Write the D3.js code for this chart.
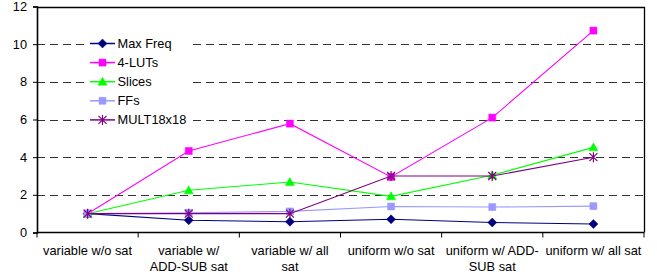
<!DOCTYPE html>
<html>
<head>
<meta charset="utf-8">
<script src="https://cdn.jsdelivr.net/npm/d3@7"></script>
<style>
  body { margin: 0; background: #fff; }
  svg { display: block; font-family: "Liberation Sans", Arial, sans-serif; }
</style>
</head>
<body>
<svg id="chart" width="657" height="275"></svg>
<script>
// category labels, each split into its wrapped lines
const categories = [
  ['variable w/o sat'],
  ['variable w/', 'ADD-SUB sat'],
  ['variable w/ all', 'sat'],
  ['uniform w/o sat'],
  ['uniform w/ ADD-', 'SUB sat'],
  ['uniform w/ all sat'],
];

const maxFreq = [1, 0.65, 0.57, 0.7, 0.53, 0.45];
const luts = [1, 4.33, 5.78, 2.95, 6.1, 10.72];
const slices = [1, 2.24, 2.68, 1.92, 3.04, 4.52];
const ffs = [1, 1.05, 1.12, 1.38, 1.35, 1.4];
const mult = [1, 1, 1, 3, 3, 4];

const yTicks = [0, 2, 4, 6, 8, 10, 12];

const series = [
  { name: 'Max Freq', values: maxFreq, color: '#000080', marker: 'diamond' },
  { name: '4-LUTs', values: luts, color: '#FF00FF', marker: 'square' },
  { name: 'Slices', values: slices, color: '#00FF00', marker: 'triangle' },
  { name: 'FFs', values: ffs, color: '#9999FF', marker: 'square' },
  { name: 'MULT18x18', values: mult, color: '#800080', marker: 'star' },
];

const Constants = {
  width: 657,
  height: 275,
  left: 37,
  top: 6.5,
  right: 644,
  bottom: 232.5,
  fontSize: 12.8,
};

const svg = d3.select('#chart');

const x = d3
  .scaleBand()
  .domain(d3.range(categories.length))
  .range([Constants.left, Constants.right]);

const y = d3
  .scaleLinear()
  .domain([0, 12])
  .range([Constants.bottom, Constants.top]);

// marker shapes centred at 0,0
function markerPath(type) {
  if (type === 'diamond') return 'M0,-4.5L4.5,0L0,4.5L-4.5,0Z';
  if (type === 'square') return 'M-3.5,-3.5H3.5V3.5H-3.5Z';
  if (type === 'triangle') return 'M0,-4.5L4.5,3.5H-4.5Z';
  return 'M-4,-4L4,4M-4,4L4,-4M0,-5V5';
}

// gridlines
svg
  .append('g')
  .selectAll('line')
  .data(yTicks.filter(t => t > 0 && t < 12))
  .enter()
  .append('line')
  .attr('x1', Constants.left)
  .attr('x2', Constants.right)
  .attr('y1', d => Math.round(y(d)) + 0.5)
  .attr('y2', d => Math.round(y(d)) + 0.5)
  .style('stroke', '#333')
  .style('stroke-width', 1)
  .style('stroke-dasharray', '8,5');

// plot border top / right
svg
  .append('path')
  .attr('d', `M${Constants.left},${Math.round(Constants.top) + 0.5}H${Constants.right + 0.5}V${Constants.bottom}`)
  .style('fill', 'none')
  .style('stroke', '#000')
  .style('stroke-width', 1.3);

// y axis
const yAxis = svg
  .append('g')
  .attr('transform', `translate(${Constants.left},0)`)
  .call(d3.axisLeft(y).tickValues(yTicks).tickSize(4).tickPadding(6));
yAxis.select('.domain').style('stroke-width', 1.6);
yAxis.selectAll('text').style('font-size', Constants.fontSize + 'px').style('fill', '#000').style('font-family', 'inherit');

// x axis with ticks at band boundaries
const xAxisG = svg.append('g').attr('transform', `translate(0,${Constants.bottom})`);
xAxisG
  .append('line')
  .attr('x1', Constants.left)
  .attr('x2', Constants.right)
  .style('stroke', '#000')
  .style('stroke-width', 1.6);
xAxisG
  .selectAll('.tick')
  .data(d3.range(categories.length + 1))
  .enter()
  .append('line')
  .attr('x1', i => Constants.left + i * x.bandwidth())
  .attr('x2', i => Constants.left + i * x.bandwidth())
  .attr('y1', 0)
  .attr('y2', 5)
  .style('stroke', '#000')
  .style('stroke-width', 1);

xAxisG
  .selectAll('.label')
  .data(categories)
  .enter()
  .append('text')
  .attr('text-anchor', 'middle')
  .style('font-size', Constants.fontSize + 'px')
  .selectAll('tspan')
  .data((d, i) => d.map((line, j) => ({ line, j, i })))
  .enter()
  .append('tspan')
  .attr('x', d => x(d.i) + x.bandwidth() / 2)
  .attr('y', d => 22 + d.j * 16.5)
  .text(d => d.line);

// series lines and markers
const line = d3
  .line()
  .x((d, i) => x(i) + x.bandwidth() / 2)
  .y(d => y(d));

const seriesG = svg
  .selectAll('.series')
  .data(series)
  .enter()
  .append('g')
  .attr('class', 'series');

seriesG
  .append('path')
  .attr('d', s => line(s.values))
  .style('fill', 'none')
  .style('stroke', s => s.color)
  .style('stroke-width', 1.1);

seriesG
  .selectAll('.marker')
  .data(s => s.values.map((v, i) => ({ v, i, s })))
  .enter()
  .append('path')
  .attr('transform', d => `translate(${x(d.i) + x.bandwidth() / 2},${y(d.v)})`)
  .attr('d', d => markerPath(d.s.marker))
  .style('fill', d => (d.s.marker === 'star' ? 'none' : d.s.color))
  .style('stroke', d => d.s.color)
  .style('stroke-width', d => (d.s.marker === 'star' ? 1.2 : 0.5));

// legend
const legend = svg.append('g').attr('transform', 'translate(86,34)');
legend
  .append('rect')
  .attr('width', 106)
  .attr('height', 95)
  .style('fill', '#fff');

const legendItem = legend
  .selectAll('.item')
  .data(series)
  .enter()
  .append('g')
  .attr('transform', (s, i) => `translate(0,${9.5 + i * 19.1})`);

legendItem
  .append('line')
  .attr('x1', 4)
  .attr('x2', 29)
  .style('stroke', s => s.color)
  .style('stroke-width', 1.5);

legendItem
  .append('path')
  .attr('transform', 'translate(16.5,0)')
  .attr('d', s => markerPath(s.marker))
  .style('fill', s => (s.marker === 'star' ? 'none' : s.color))
  .style('stroke', s => s.color)
  .style('stroke-width', s => (s.marker === 'star' ? 1.2 : 0.5));

legendItem
  .append('text')
  .attr('x', 31.5)
  .attr('dy', '0.35em')
  .style('font-size', Constants.fontSize + 'px')
  .text(s => s.name);
</script>
</body>
</html>
